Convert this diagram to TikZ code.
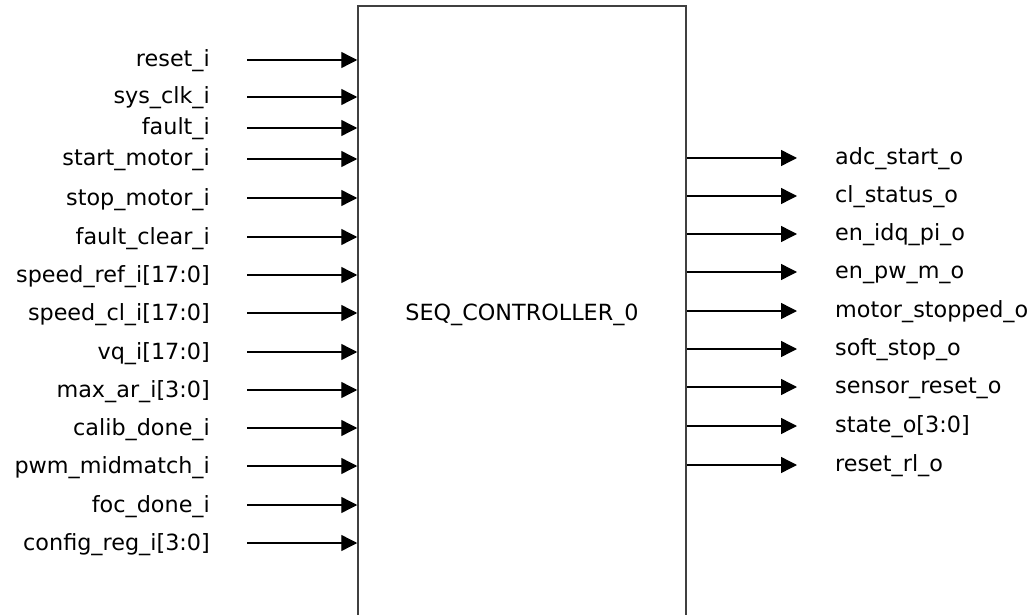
\documentclass[tikz,border=0pt]{standalone}
\usepackage{fontspec}
\setmainfont{DejaVu Sans}
\usetikzlibrary{arrows.meta}
\begin{document}
\begin{tikzpicture}[x=1pt,y=-1pt,
  inlabel/.style={anchor=base east,inner sep=0pt,font=\fontsize{22.3}{26}\selectfont},
  outlabel/.style={anchor=base west,inner sep=0pt,font=\fontsize{22.3}{26}\selectfont},
  port/.style={line width=1.4pt,-{Triangle[length=16pt,width=16pt]}},
  blockbox/.style={draw=black!75,line width=1.5pt,minimum width=328pt,minimum height=700pt,inner sep=0pt}]
\useasboundingbox (0,0) rectangle (1029,615);
\clip (0,0) rectangle (1029,615);
\node[blockbox] (blk) at (522,356) {};
\node[anchor=base,inner sep=0pt,font=\fontsize{22.3}{26}\selectfont] (name) at (522,320) {SEQ\_CONTROLLER\_0};
% inputs
\foreach \lab/\yy [count=\i] in {reset\_i/60, sys\_clk\_i/97, fault\_i/128, start\_motor\_i/159, stop\_motor\_i/198, fault\_clear\_i/237, speed\_ref\_i[17:0]/275, speed\_cl\_i[17:0]/313, vq\_i[17:0]/352, max\_ar\_i[3:0]/390, calib\_done\_i/428, pwm\_midmatch\_i/466, foc\_done\_i/505, config\_reg\_i[3:0]/543}{
  \node[inlabel] (in\i) at (210,\yy+7) {\lab};
  \coordinate (ins\i) at (247,\yy);
  \draw[port] (ins\i) -- (blk.west |- ins\i);
}
% outputs
\foreach \lab/\yy [count=\i] in {adc\_start\_o/158, cl\_status\_o/196, en\_idq\_pi\_o/234, en\_pw\_m\_o/272, motor\_stopped\_o/311, soft\_stop\_o/349, sensor\_reset\_o/387, state\_o[3:0]/426, reset\_rl\_o/465}{
  \node[outlabel] (out\i) at (835,\yy+6.5) {\lab};
  \coordinate (oute\i) at (797,\yy);
  \draw[port] (blk.east |- oute\i) -- (oute\i);
}
\end{tikzpicture}
\end{document}
